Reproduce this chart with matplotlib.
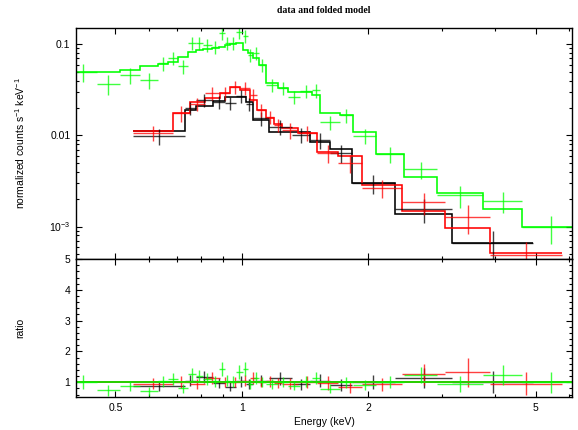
import numpy as np
import matplotlib
matplotlib.use("Agg")
import matplotlib.pyplot as plt
from matplotlib.ticker import FixedLocator, FixedFormatter, LogLocator, NullFormatter, MultipleLocator

plt.rcParams['font.family'] = ['Liberation Sans', 'DejaVu Sans']
plt.rcParams['mathtext.default'] = 'regular'

# --- spectra: bin edges (keV), data, 1-sigma error, folded model ---
black_lo = [0.550, 0.732, 0.777, 0.853, 0.911, 0.968, 1.022, 1.062, 1.160, 1.315, 1.452, 1.620, 1.828, 2.313, 3.162]
black_hi = [0.732, 0.777, 0.853, 0.911, 0.968, 1.022, 1.062, 1.160, 1.315, 1.452, 1.620, 1.828, 2.313, 3.162, 4.931]
black_dat = [0.00982, 0.01995, 0.02443, 0.02322, 0.02264, 0.02703, 0.02208, 0.01549, 0.01234, 0.01008,
             0.00888, 0.00639, 0.00299, 0.00155, 0.000655]
black_err = [0.0019, 0.0033, 0.0040, 0.0038, 0.0037, 0.0045, 0.0036, 0.0027, 0.0023, 0.0019,
             0.0017, 0.0014, 0.0007, 0.00045, 0.00023]
black_mod = [0.01115, 0.01897, 0.02099, 0.02381, 0.02636, 0.02636, 0.02322, 0.01473, 0.01087, 0.01087,
             0.00844, 0.00707, 0.00299, 0.00137, 0.000655]

red_lo = [0.550, 0.685, 0.752, 0.817, 0.886, 0.936, 0.989, 1.045, 1.086, 1.141, 1.192, 1.245, 1.359,
          1.509, 1.693, 1.931, 2.404, 3.043, 3.895]
red_hi = [0.685, 0.752, 0.817, 0.886, 0.936, 0.989, 1.045, 1.086, 1.141, 1.192, 1.245, 1.359, 1.509,
          1.693, 1.931, 2.404, 3.043, 3.895, 5.780]
red_dat = [0.0106, 0.01758, 0.02208, 0.02916, 0.02916, 0.03395, 0.03311, 0.02773, 0.01897, 0.01589,
           0.01298, 0.01143, 0.0106, 0.00639, 0.00496, 0.00264, 0.00185, 0.00127, 0.000484]
red_err = [0.0020, 0.0034, 0.0036, 0.0048, 0.0048, 0.0056, 0.0055, 0.0046, 0.0032, 0.0027,
           0.0022, 0.0022, 0.0020, 0.0014, 0.0011, 0.0006, 0.0005, 0.00045, 0.00019]
red_mod = [0.01115, 0.01758, 0.02322, 0.0257, 0.02916, 0.03395, 0.03147, 0.02443, 0.01897, 0.01549,
           0.01331, 0.01203, 0.0106, 0.00656, 0.00592, 0.00284, 0.00147, 0.000958, 0.000509]

green_lo = [0.390, 0.452, 0.512, 0.572, 0.631, 0.667, 0.704, 0.744, 0.777, 0.808, 0.848, 0.882, 0.911,
            0.936, 0.968, 1.006, 1.033, 1.062, 1.098, 1.141, 1.218, 1.287, 1.374, 1.468, 1.533, 1.711,
            1.838, 2.085, 2.431, 2.913, 3.748, 4.642]
green_hi = [0.452, 0.512, 0.572, 0.631, 0.667, 0.704, 0.744, 0.777, 0.808, 0.848, 0.882, 0.911, 0.936,
            0.968, 1.006, 1.033, 1.062, 1.098, 1.141, 1.218, 1.287, 1.374, 1.468, 1.533, 1.711, 1.838,
            2.085, 2.431, 2.913, 3.748, 4.642, 6.400]
green_dat = [0.0496, 0.0366, 0.046, 0.0405, 0.0623, 0.0707, 0.0578, 0.103, 0.103, 0.0982, 0.0934, 0.133,
             0.103, 0.103, 0.136, 0.123, 0.0762, 0.0802, 0.0593, 0.0357, 0.0331, 0.0264, 0.0307, 0.0315,
             0.0140, 0.0167, 0.00982, 0.00622, 0.00426, 0.00221, 0.0019, 0.00098]
green_err = [0.011, 0.009, 0.009, 0.008, 0.011, 0.012, 0.010, 0.017, 0.017, 0.016, 0.015, 0.022,
             0.017, 0.017, 0.023, 0.020, 0.013, 0.013, 0.010, 0.006, 0.0055, 0.0045, 0.005, 0.0055,
             0.0025, 0.003, 0.0018, 0.0012, 0.0009, 0.0006, 0.0005, 0.00033]
green_mod = [0.0496, 0.0496, 0.0522, 0.0578, 0.0608, 0.0638, 0.0725, 0.0823, 0.0866, 0.0888, 0.0911,
             0.0934, 0.0982, 0.1007, 0.103, 0.0866, 0.0802, 0.0707, 0.0593, 0.0376, 0.0331, 0.0299,
             0.0299, 0.0277, 0.0176, 0.0167, 0.01087, 0.00622, 0.00348, 0.00232, 0.00155, 0.00098]

fig = plt.figure(figsize=(5.78, 4.30), dpi=100)
ax = fig.add_axes([0.1315, 0.3977, 0.8581, 0.5372])
axr = fig.add_axes([0.1315, 0.0767, 0.8581, 0.3209], sharex=ax)


def draw_set(lo, hi, dat, err, mod, col):
    lo = np.array(lo)
    hi = np.array(hi)
    dat = np.array(dat)
    err = np.array(err)
    mod = np.array(mod)
    xc = np.sqrt(lo * hi)
    xe = [xc - lo, hi - xc]
    # data crosses + folded model histogram
    ax.errorbar(xc, dat, xerr=xe, yerr=err, fmt='none', ecolor=col,
                elinewidth=1.0, alpha=0.75, capsize=0)
    ax.stairs(mod, np.append(lo, hi[-1]), baseline=None, color=col, lw=1.15)
    # ratio panel
    axr.errorbar(xc, dat / mod, xerr=xe, yerr=err / mod, fmt='none', ecolor=col,
                 elinewidth=1.0, alpha=0.75, capsize=0)
    axr.axhline(1.0, color=col, lw=1.15)


draw_set(black_lo, black_hi, black_dat, black_err, black_mod, '#000000')
draw_set(red_lo, red_hi, red_dat, red_err, red_mod, '#ff0000')
draw_set(green_lo, green_hi, green_dat, green_err, green_mod, '#00ff00')

ax.set_xscale('log')
ax.set_yscale('log')
ax.set_xlim(0.403, 6.1)
ax.set_ylim(4.4e-4, 0.151)
ax.set_yticks([1e-3, 1e-2, 1e-1], labels=['$10^{-3}$', '0.01', '0.1'])
ax.yaxis.set_minor_locator(LogLocator(base=10, subs=np.arange(2, 10)))
ax.yaxis.set_minor_formatter(NullFormatter())
ax.tick_params(labelbottom=False)

axr.set_ylim(0.52, 5.0)
axr.yaxis.set_major_locator(MultipleLocator(1))
axr.yaxis.set_minor_locator(MultipleLocator(0.2))
axr.xaxis.set_major_locator(FixedLocator([0.5, 1, 2, 5]))
axr.xaxis.set_major_formatter(FixedFormatter(['0.5', '1', '2', '5']))
axr.xaxis.set_minor_locator(LogLocator(base=10, subs=np.arange(2, 10)))
axr.xaxis.set_minor_formatter(NullFormatter())

for a in (ax, axr):
    a.tick_params(which='both', direction='in', top=True, right=True, labelsize=7.5, pad=4, width=0.8)
    a.tick_params(which='major', length=4)
    a.tick_params(which='minor', length=2.5)
    for s in a.spines.values():
        s.set_linewidth(1.0)

ax.set_title('data and folded model', fontsize=7, fontweight='bold',
             family=['Liberation Serif', 'DejaVu Serif'], pad=11)
fig.text(20 / 578, 1 - 143 / 430, 'normalized counts s$^{-1}$ keV$^{-1}$', rotation=90,
         ha='center', va='center', fontsize=7.5)
fig.text(20 / 578, 1 - 328 / 430, 'ratio', rotation=90, ha='center', va='center', fontsize=7.5)
axr.set_xlabel('Energy (keV)', fontsize=7.5, labelpad=3)

fig.savefig('out.png', dpi=100)
